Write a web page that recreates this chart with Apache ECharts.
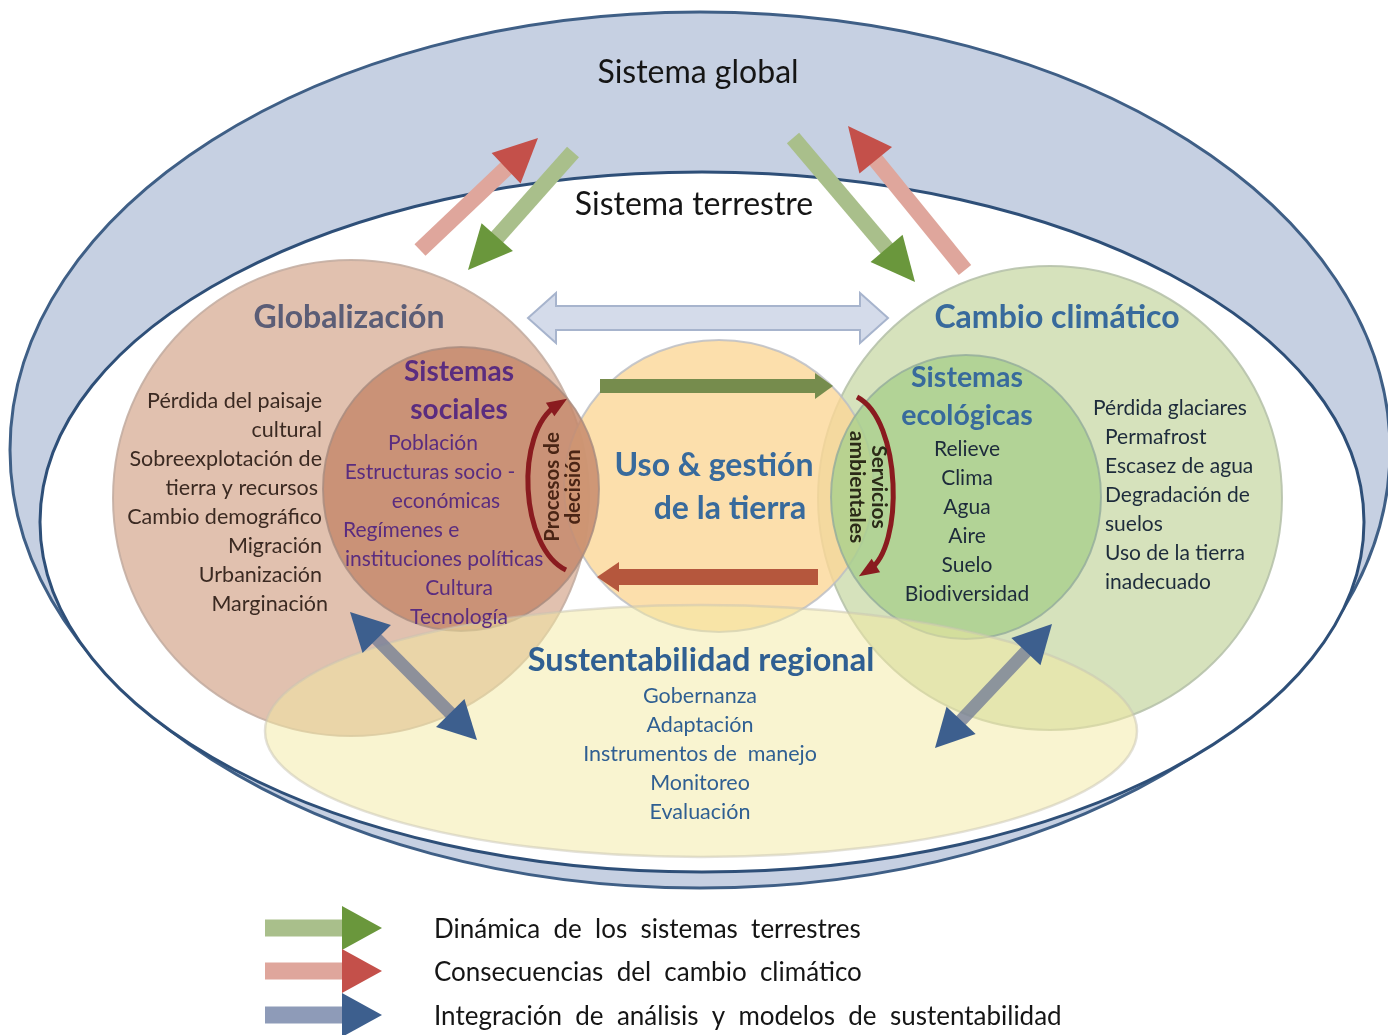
<!DOCTYPE html>
<html>
<head>
<meta charset="utf-8">
<script src="https://cdn.jsdelivr.net/npm/echarts@6/dist/echarts.min.js"></script>
<style>
html, body { margin: 0; padding: 0; background: #fff; }
#main { width: 1388px; height: 1035px; }
</style>
</head>
<body>
<div id="main"></div>
<script>
// ---- diagram content ----
var regionNames = ['Sistema global', 'Sistema terrestre', 'Globalización', 'Cambio climático',
                   'Uso & gestión de la tierra', 'Sistemas sociales', 'Sistemas ecológicas', 'Sustentabilidad regional'];
var regionCx = [700, 702, 351, 1050, 719, 461, 966, 701];
var regionCy = [450, 522, 498, 498, 486, 489, 497, 731];
var regionRx = [690, 662, 238, 232, 155, 138, 135, 436];
var regionRy = [438, 350, 238, 232, 146, 142, 142, 126];

var globalizacionItems = ['Pérdida del paisaje', 'cultural', 'Sobreexplotación de', 'tierra y recursos',
                          'Cambio demográfico', 'Migración', 'Urbanización', 'Marginación'];
var socialesItems = ['Población', 'Estructuras socio -', 'económicas', 'Regímenes e',
                     'instituciones políticas', 'Cultura', 'Tecnología'];
var ecologicasItems = ['Relieve', 'Clima', 'Agua', 'Aire', 'Suelo', 'Biodiversidad'];
var climaItems = ['Pérdida glaciares', 'Permafrost', 'Escasez de agua', 'Degradación de',
                  'suelos', 'Uso de la tierra', 'inadecuado'];
var sustentabilidadItems = ['Gobernanza', 'Adaptación', 'Instrumentos de  manejo', 'Monitoreo', 'Evaluación'];
var legendLabels = ['Dinámica  de  los  sistemas  terrestres',
                    'Consecuencias  del  cambio  climático',
                    'Integración  de  análisis  y  modelos  de  sustentabilidad'];

// arrows: tail x, tail y, tip x, tip y
var dinamicaArrows = [[573, 152, 468, 270], [793, 138, 915, 282]];
var consecuenciaArrows = [[420, 250, 538, 138], [965, 270, 848, 126]];
var usoArrows = [[600, 386, 833, 386], [818, 577, 597, 577]];
var integracionArrows = [[350, 612, 477, 740], [935, 748, 1052, 624]];
var enlaceArrow = [528, 318, 888, 318];
var legendY = [928, 971, 1015];

// ---- styling ----
var FONT = 'Lato, "Open Sans", sans-serif';
var regionFill = ['#c6d0e2', '#ffffff', '#dcb6a1', '#cfddb0', '#fbd797', '#c4876a', '#a9cf8c', '#f4eaa2'];
var regionStroke = ['#3f5f86', '#2e4f78', '#c2aba0', '#b4c0a8', '#b9bdc6', '#a88c80', '#94ab9c', '#c8c3b4'];
var regionWidth = [3, 3, 2, 2, 2, 2, 2, 2.5];
var regionOpacity = [1, 1, 0.85, 0.85, 0.8, 0.82, 0.8, 0.5];
var arrowColors = {
  dinamica: { shaft: '#a9bf8b', head: '#6a973c' },
  consecuencia: { shaft: '#dfa69c', head: '#c4504a' },
  integracion: { shaft: 'rgba(110,120,150,0.75)', head: '#3d5f8e' }
};
var legendColors = [
  { shaft: '#a9bf8b', head: '#6a973c' },
  { shaft: '#dfa69c', head: '#c4504a' },
  { shaft: '#8e9bb8', head: '#3d5f8e' }
];

var chart = echarts.init(document.getElementById('main'));

function arrowShapes(api, seg, sw, hw, hl, both) {
  var a = api.coord([seg[0], seg[1]]), b = api.coord([seg[2], seg[3]]);
  var dx = b[0] - a[0], dy = b[1] - a[1], L = Math.sqrt(dx * dx + dy * dy);
  var ux = dx / L, uy = dy / L, nx = -uy, ny = ux;
  function pt(t, s) { return [a[0] + ux * t + nx * s, a[1] + uy * t + ny * s]; }
  var s0 = both ? hl - 1 : 0, s1 = L - hl + 1;
  return {
    shaft: [pt(s0, -sw / 2), pt(s1, -sw / 2), pt(s1, sw / 2), pt(s0, sw / 2)],
    head: [pt(L - hl, -hw / 2), pt(L, 0), pt(L - hl, hw / 2)],
    tail: both ? [pt(hl, -hw / 2), pt(0, 0), pt(hl, hw / 2)] : null,
    outline: [pt(0, 0), pt(hl, -hw / 2), pt(hl, -sw / 2), pt(L - hl, -sw / 2), pt(L - hl, -hw / 2), pt(L, 0),
              pt(L - hl, hw / 2), pt(L - hl, sw / 2), pt(hl, sw / 2), pt(hl, hw / 2)]
  };
}

function arrowGroup(api, seg, colors, sw, hw, hl, both) {
  var s = arrowShapes(api, seg, sw, hw, hl, both);
  var kids = [
    { type: 'polygon', shape: { points: s.shaft }, style: { fill: colors.shaft } },
    { type: 'polygon', shape: { points: s.head }, style: { fill: colors.head } }
  ];
  if (both) kids.push({ type: 'polygon', shape: { points: s.tail }, style: { fill: colors.head } });
  return kids;
}

function txt(api, x, y, text, size, color, opts) {
  opts = opts || {};
  var p = api.coord([x, y]);
  return {
    type: 'text', x: p[0], y: p[1], rotation: opts.rotation || 0,
    style: {
      text: text, fill: color, align: opts.align || 'center', verticalAlign: 'middle',
      font: (opts.bold ? 'bold ' : '') + size + 'px ' + FONT, lineHeight: opts.lineHeight || size * 1.15
    }
  };
}

function renderRegions(params, api) {
  var i = params.dataIndex;
  var c = api.coord([regionCx[i], regionCy[i]]);
  var sz = api.size([regionRx[i], regionRy[i]]);
  return {
    type: 'ellipse',
    shape: { cx: c[0], cy: c[1], rx: sz[0], ry: sz[1] },
    style: { fill: regionFill[i], stroke: regionStroke[i], lineWidth: regionWidth[i], opacity: regionOpacity[i] }
  };
}

function renderArrows(params, api) {
  var kids = [];
  // hollow link arrow between globalización and cambio climático
  var s = arrowShapes(api, enlaceArrow, 24, 50, 28, true);
  kids.push({ type: 'polygon', shape: { points: s.outline }, style: { fill: '#d4dbea', stroke: '#a7b4cd', lineWidth: 2 } });
  dinamicaArrows.forEach(function (seg) { kids = kids.concat(arrowGroup(api, seg, arrowColors.dinamica, 16, 42, 44, false)); });
  consecuenciaArrows.forEach(function (seg) { kids = kids.concat(arrowGroup(api, seg, arrowColors.consecuencia, 16, 42, 44, false)); });
  kids = kids.concat(arrowGroup(api, usoArrows[0], { shaft: '#768c4d', head: '#768c4d' }, 14, 26, 18, false));
  kids = kids.concat(arrowGroup(api, usoArrows[1], { shaft: '#b5573d', head: '#b5573d' }, 16, 30, 22, false));
  integracionArrows.forEach(function (seg) { kids = kids.concat(arrowGroup(api, seg, arrowColors.integracion, 13, 40, 38, true)); });
  legendY.forEach(function (y, k) { kids = kids.concat(arrowGroup(api, [265, y, 382, y], legendColors[k], 17, 44, 40, false)); });

  // curved decision / service arrows
  function curve(p0, c1, c2, p1) {
    var a = api.coord(p0), b = api.coord(c1), c = api.coord(c2), d = api.coord(p1);
    var tx = d[0] - c[0], ty = d[1] - c[1], tl = Math.sqrt(tx * tx + ty * ty);
    tx /= tl; ty /= tl;
    var hl = 14, hw = 8;
    kids.push({ type: 'bezierCurve', shape: { x1: a[0], y1: a[1], cpx1: b[0], cpy1: b[1], cpx2: c[0], cpy2: c[1], x2: d[0] - tx * 6, y2: d[1] - ty * 6 },
                style: { stroke: '#8a1b1f', lineWidth: 5, fill: null } });
    kids.push({ type: 'polygon', shape: { points: [[d[0] + tx * 6, d[1] + ty * 6], [d[0] - tx * hl - ty * hw, d[1] - ty * hl + tx * hw], [d[0] - tx * hl + ty * hw, d[1] - ty * hl - tx * hw]] },
                style: { fill: '#8a1b1f' } });
  }
  curve([566, 570], [520, 548], [514, 432], [562, 402]);
  curve([857, 397], [902, 420], [904, 548], [864, 573]);
  return { type: 'group', children: kids };
}

function renderTexts(params, api) {
  var k = [];
  var dark = '#151515', purple = '#5a2c7f', blue = '#386a9c', brown = '#3b2a22', navy = '#1d2b3b', sblue = '#2f5f92';
  k.push(txt(api, 698, 73, 'Sistema global', 32, dark));
  k.push(txt(api, 694, 205, 'Sistema terrestre', 32, dark));
  k.push(txt(api, 349, 318, 'Globalización', 32, '#5b5d76', { bold: true }));
  k.push(txt(api, 1057, 318, 'Cambio climático', 32, blue, { bold: true }));
  k.push(txt(api, 459, 372, 'Sistemas', 28, purple, { bold: true }));
  k.push(txt(api, 459, 410, 'sociales', 28, purple, { bold: true }));
  var gx = [322, 322, 322, 318, 322, 322, 322, 328];
  globalizacionItems.forEach(function (t, i) { k.push(txt(api, gx[i], 401 + i * 29, t, 21.5, brown, { align: 'right' })); });
  var sx = [433, 430, 446, 343, 345, 459, 459];
  var sa = ['center', 'center', 'center', 'left', 'left', 'center', 'center'];
  socialesItems.forEach(function (t, i) { k.push(txt(api, sx[i], 443 + i * 29, t, 21, purple, { align: sa[i] })); });
  k.push(txt(api, 563, 487, 'Procesos de\ndecisión', 20.5, '#4a2515', { bold: true, rotation: Math.PI / 2, lineHeight: 21 }));
  k.push(txt(api, 714, 466, 'Uso & gestión', 32, blue, { bold: true }));
  k.push(txt(api, 730, 509, 'de la tierra', 32, blue, { bold: true }));
  k.push(txt(api, 868, 487, 'Servicios\nambientales', 21, '#2b2a18', { bold: true, rotation: -Math.PI / 2, lineHeight: 22 }));
  k.push(txt(api, 967, 378, 'Sistemas', 28.5, blue, { bold: true }));
  k.push(txt(api, 967, 416, 'ecológicas', 28.5, blue, { bold: true }));
  ecologicasItems.forEach(function (t, i) { k.push(txt(api, 967, 449 + i * 29, t, 21, navy)); });
  climaItems.forEach(function (t, i) { k.push(txt(api, i === 0 ? 1093 : 1105, 408 + i * 29, t, 21, navy, { align: 'left' })); });
  k.push(txt(api, 701, 661, 'Sustentabilidad regional', 32.5, sblue, { bold: true }));
  sustentabilidadItems.forEach(function (t, i) { k.push(txt(api, 700, 696 + i * 29, t, 21.5, sblue)); });
  legendLabels.forEach(function (t, i) { k.push(txt(api, 434, [930, 973, 1017][i], t, 26, dark, { align: 'left' })); });
  return { type: 'group', children: k };
}

var option = {
  animation: false,
  backgroundColor: '#ffffff',
  grid: { left: 0, right: 0, top: 0, bottom: 0 },
  xAxis: { type: 'value', min: 0, max: 1388, show: false },
  yAxis: { type: 'value', min: 0, max: 1035, inverse: true, show: false },
  series: [
    { type: 'custom', renderItem: renderRegions, data: regionNames.map(function (n, i) { return [regionCx[i], regionCy[i]]; }), silent: true, z: 1 },
    { type: 'custom', renderItem: renderArrows, data: [[0, 0]], silent: true, z: 2 },
    { type: 'custom', renderItem: renderTexts, data: [[0, 0]], silent: true, z: 3 }
  ]
};
chart.setOption(option);
</script>
</body>
</html>
